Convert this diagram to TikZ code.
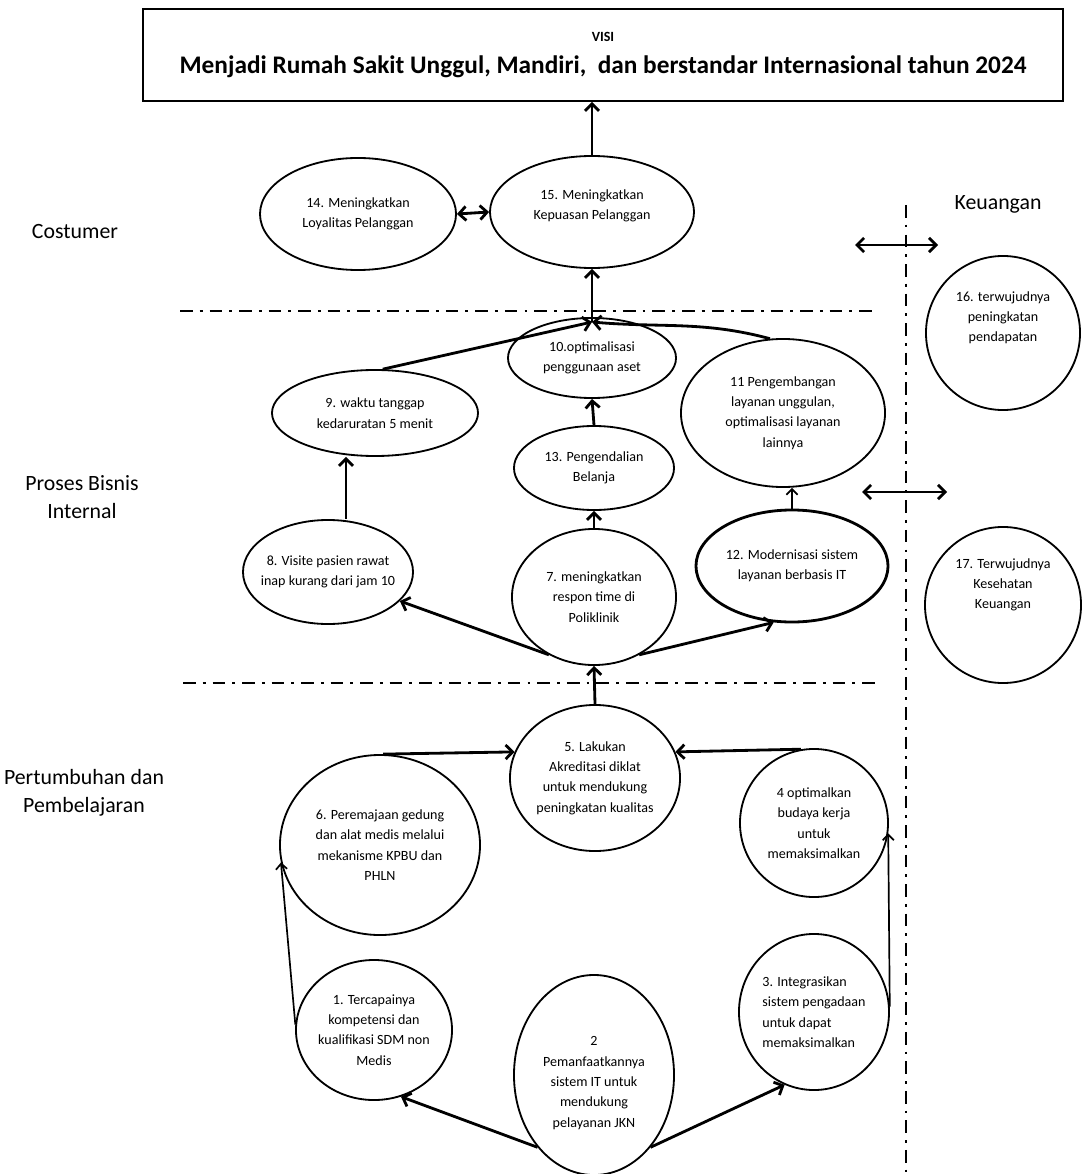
\documentclass[tikz,border=0pt]{standalone}
\usepackage{fontspec}
\setmainfont{Carlito}
\usetikzlibrary{arrows.meta, shapes.geometric, calc}

\begin{document}
\begin{tikzpicture}[x=0.025cm, y=-0.025cm,
  ell/.style 2 args={
    ellipse, draw, line width=1.3pt,
    minimum width=#1, minimum height=#2, inner sep=0pt
  },
  txt/.style={font=\fontsize{10}{14.5}\selectfont, align=center, inner sep=0pt},
  zone/.style={font=\fontsize{15.5}{20}\selectfont, align=center},
  arr/.style={-{Straight Barb[length=5pt, width=10pt]}, line width=2pt},
  thinarr/.style={-{Straight Barb[length=4pt, width=8pt]}, line width=1.2pt},
  darr/.style={
    {Straight Barb[length=5pt, width=10pt]}-{Straight Barb[length=5pt, width=10pt]},
    line width=2pt
  },
  sep/.style={line width=2pt, dash pattern=on 9pt off 5pt on 2pt off 5pt}
]
\useasboundingbox (0,0) rectangle (1081,1174);

%% visi
\node[draw, line width=1.3pt, minimum width=23.0cm, minimum height=2.3cm,
  align=center, inner sep=2pt] (visi) at (603,55)
  {{\fontsize{10}{12}\selectfont\bfseries VISI}\\[9pt]
   {\fontsize{18}{20}\selectfont\bfseries Menjadi Rumah Sakit Unggul, Mandiri,\ \ dan berstandar Internasional tahun 2024}};

%% zone labels
\node[zone] (lcost) at (75,232) {Costumer};
\node[zone] (lkeu) at (998,204) {Keuangan};
\node[zone] (lpros) at (82,497) {Proses Bisnis\\Internal};
\node[zone] (lpert) at (84,793) {Pertumbuhan dan\\Pembelajaran};

%% separators
\draw[sep] (180,311) -- (878,311);
\draw[sep] (183,683) -- (878,683);
\draw[sep] (906,205) -- (906,1174);

%% costumer
\node[ell={4.9cm}{2.8cm}] (e14) at (358,214) {};
\node[txt] (t14) at (e14) {14. Meningkatkan\\Loyalitas Pelanggan};
\node[ell={5.1cm}{2.8cm}] (e15) at (592,212) {};
\node[txt] (t15) at ([yshift=0.15cm]e15.center) {15. Meningkatkan\\Kepuasan Pelanggan};

%% keuangan
\node[ell={3.85cm}{3.85cm}] (e16) at (1003,333) {};
\node[txt, anchor=north] (t16) at ([yshift=-0.9cm]e16.north) {16. terwujudnya\\peningkatan\\pendapatan};
\node[ell={3.9cm}{3.9cm}] (e17) at (1003,605) {};
\node[txt, anchor=north] (t17) at ([yshift=-0.8cm]e17.north) {17. Terwujudnya\\Kesehatan\\Keuangan};

%% proses bisnis internal
\node[ell={5.15cm}{2.15cm}] (e9) at (375,413) {};
\node[txt] (t9) at (e9) {9. waktu tanggap\\kedaruratan 5 menit};
\node[ell={4.2cm}{2.0cm}] (e10) at (592,358) {};
\node[txt] (t10) at (e10) {10.optimalisasi\\penggunaan aset};
\node[ell={5.1cm}{3.7cm}] (e11) at (783,413) {};
\node[txt] (t11) at (e11) {11 Pengembangan\\layanan unggulan,\\optimalisasi layanan\\lainnya};
\node[ell={4.0cm}{2.1cm}] (e13) at (594,468) {};
\node[txt] (t13) at (e13) {13. Pengendalian\\Belanja};
\node[ell={4.25cm}{2.6cm}] (e8) at (328,572) {};
\node[txt] (t8) at (e8) {8. Visite pasien rawat\\inap kurang dari jam 10};
\node[ell={4.1cm}{3.4cm}] (e7) at (594,597) {};
\node[txt] (t7) at (e7) {7. meningkatkan\\respon time di\\Poliklinik};
\node[ell={4.8cm}{2.8cm}, line width=2pt] (e12) at (792,566) {};
\node[txt] (t12) at (e12) {12. Modernisasi sistem\\layanan berbasis IT};

%% pertumbuhan dan pembelajaran
\node[ell={4.25cm}{3.65cm}] (e5) at (595,778) {};
\node[txt] (t5) at (e5) {5. Lakukan\\Akreditasi diklat\\untuk mendukung\\peningkatan kualitas};
\node[ell={5.0cm}{4.5cm}] (e6) at (380,845) {};
\node[txt] (t6) at (e6) {6. Peremajaan gedung\\dan alat medis melalui\\mekanisme KPBU dan\\PHLN};
\node[ell={3.7cm}{3.7cm}] (e4) at (814,823) {};
\node[txt] (t4) at (e4) {4 optimalkan\\budaya kerja\\untuk\\memaksimalkan};
\node[ell={3.9cm}{3.5cm}] (e1) at (374,1030) {};
\node[txt] (t1) at (e1) {1. Tercapainya\\kompetensi dan\\kualifikasi SDM non\\Medis};
\node[ell={3.75cm}{3.9cm}] (e3) at (814,1012) {};
\node[txt, align=left] (t3) at (e3) {3. Integrasikan\\sistem pengadaan\\untuk dapat\\memaksimalkan};
\node[ell={4.0cm}{5.0cm}] (e2) at (594,1075) {};
\node[txt] (t2) at ([yshift=-0.2cm]e2.center) {2\\Pemanfaatkannya\\sistem IT untuk\\mendukung\\pelayanan JKN};

%% free arrows
\coordinate (jn) at (592,322);
\coordinate (k1) at (855,245);
\coordinate (k2) at (938,245);
\coordinate (k3) at (862,492);
\coordinate (k4) at (947,492);

%% connectors
\draw[arr] (e15.north) -- (e15.north |- visi.south);
\draw[darr] (e14.east) -- (e15.west);
\draw[darr] (k1) -- (k2);
\draw[darr] (k3) -- (k4);

\draw[arr] (e9.80) -- (jn);
\draw[arr] (e11.100) to[out=165, in=-5] (jn);
\draw[arr] (jn) -- (e15.south);
\draw[arr] (e13.north) -- (e10.south);
\draw[arr] ([xshift=0.45cm]e8.north) -- ([xshift=0.45cm]e8.north |- e9.south);
\draw[arr] (e7.north) -- (e13.south);
\draw[arr] (e7.232) -- (e8.-22);
\draw[arr] (e7.-52) -- (e12.252);
\draw[thinarr] (e12.north) -- (e12.north |- e11.south);

\draw[arr] (e5.north) -- (e7.south);
\draw[arr] (e6.88) -- (e5.162);
\draw[arr] (e4.100) -- (e5.18);
\draw[thinarr] (e1.176) -- (e6.190);
\draw[thinarr] (e3.4) -- (e4.-8);
\draw[arr] (e2.232) -- (e1.-68);
\draw[arr] (e2.-52) -- (e3.-112);

\end{tikzpicture}
\end{document}
